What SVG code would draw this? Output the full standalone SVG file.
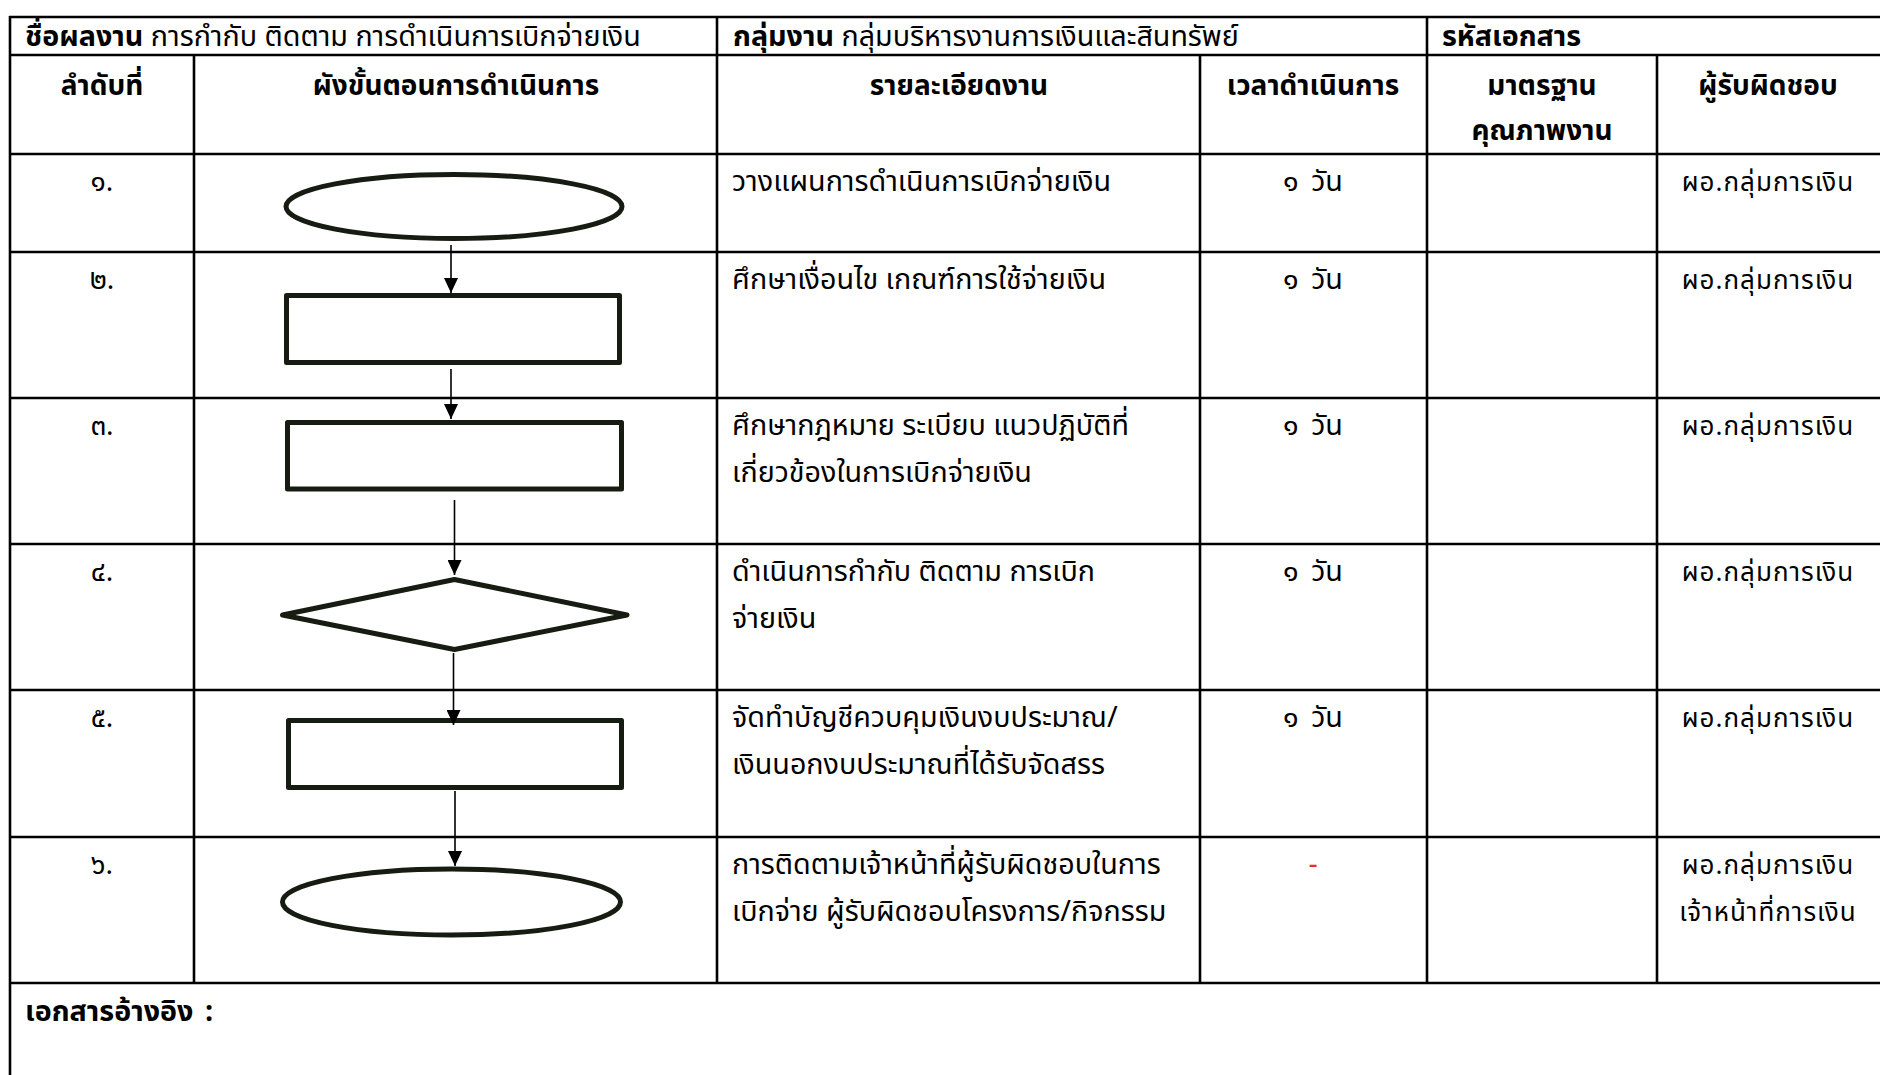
<svg xmlns="http://www.w3.org/2000/svg" width="1880" height="1075" viewBox="0 0 1880 1075">
<style>
  .t { font-family: "Noto Sans Thai", "Noto Sans Thai Looped", "Noto Sans", "DejaVu Sans", sans-serif; fill: #000; }
  .b { font-weight: bold; }
  .body { font-size: 28.7px; }
  .hd { font-size: 28px; font-weight: bold; }
  .num { font-size: 28px; }
  .resp { font-size: 26px; letter-spacing: 1px; }
  .grid line { stroke: #000; stroke-width: 2.6; }
  .shape { fill: #fff; stroke: #161c12; stroke-width: 5; stroke-linejoin: round; }
  .conn line { stroke: #000; stroke-width: 1.6; }
</style>
<defs>
  <marker id="ah" markerUnits="userSpaceOnUse" markerWidth="16" markerHeight="14" refX="15" refY="7" orient="auto">
    <path d="M0,0 L15,7 L0,14 z" fill="#000"/>
  </marker>
</defs>
<rect x="0" y="0" width="1880" height="1075" fill="#fff"/>

<g id="table-grid" class="grid">
  <line x1="9" y1="17" x2="1880" y2="17"/>
  <line x1="9" y1="55" x2="1880" y2="55"/>
  <line x1="9" y1="154" x2="1880" y2="154"/>
  <line x1="9" y1="252" x2="1880" y2="252"/>
  <line x1="9" y1="398" x2="1880" y2="398"/>
  <line x1="9" y1="544" x2="1880" y2="544"/>
  <line x1="9" y1="690" x2="1880" y2="690"/>
  <line x1="9" y1="837" x2="1880" y2="837"/>
  <line x1="9" y1="983" x2="1880" y2="983"/>
  <line x1="10" y1="16" x2="10" y2="1075"/>
  <line x1="717" y1="16" x2="717" y2="55"/>
  <line x1="1427" y1="16" x2="1427" y2="55"/>
  <line x1="194" y1="55" x2="194" y2="983"/>
  <line x1="717" y1="55" x2="717" y2="983"/>
  <line x1="1200" y1="55" x2="1200" y2="983"/>
  <line x1="1427" y1="55" x2="1427" y2="983"/>
  <line x1="1657" y1="55" x2="1657" y2="983"/>
</g>

<g id="title-row" class="t body">
  <text x="25" y="46"><tspan class="b">ชื่อผลงาน</tspan> การกำกับ ติดตาม การดำเนินการเบิกจ่ายเงิน</text>
  <text x="733" y="46"><tspan class="b">กลุ่มงาน</tspan> กลุ่มบริหารงานการเงินและสินทรัพย์</text>
  <text x="1442" y="46" class="b">รหัสเอกสาร</text>
</g>

<g id="header-row" class="t hd" text-anchor="middle">
  <text x="102" y="95">ลำดับที่</text>
  <text x="456" y="95">ผังขั้นตอนการดำเนินการ</text>
  <text x="959" y="95">รายละเอียดงาน</text>
  <text x="1313" y="95">เวลาดำเนินการ</text>
  <text x="1542" y="95">มาตรฐาน</text>
  <text x="1542" y="140">คุณภาพงาน</text>
  <text x="1768" y="95">ผู้รับผิดชอบ</text>
</g>

<g id="step-numbers" class="t num" text-anchor="middle">
  <text x="102" y="191">๑.</text>
  <text x="102" y="289">๒.</text>
  <text x="102" y="435">๓.</text>
  <text x="102" y="581">๔.</text>
  <text x="102" y="727">๕.</text>
  <text x="102" y="874">๖.</text>
</g>

<g id="node-1">
  <ellipse class="shape" cx="454" cy="206.5" rx="168" ry="32"/>
</g>
<g id="node-2">
  <rect class="shape" x="286.5" y="295.5" width="333" height="67"/>
</g>
<g id="node-3">
  <rect class="shape" x="287.5" y="422.5" width="334" height="66.5"/>
</g>
<g id="node-4">
  <polygon class="shape" points="282.5,615 454.5,579.5 627,615 454.5,649.5"/>
</g>
<g id="node-5">
  <rect class="shape" x="288.5" y="720.5" width="333" height="67"/>
</g>
<g id="node-6">
  <ellipse class="shape" cx="451.5" cy="902" rx="169" ry="33"/>
</g>

<g id="connectors" class="conn">
  <line x1="451" y1="245" x2="451" y2="293" marker-end="url(#ah)"/>
  <line x1="451" y1="369" x2="451" y2="419" marker-end="url(#ah)"/>
  <line x1="454.5" y1="500" x2="454.5" y2="575" marker-end="url(#ah)"/>
  <line x1="453.5" y1="653" x2="453.5" y2="725" marker-end="url(#ah)"/>
  <line x1="455" y1="791" x2="455" y2="866" marker-end="url(#ah)"/>
</g>

<g id="details" class="t body">
  <text x="732" y="191">วางแผนการดำเนินการเบิกจ่ายเงิน</text>
  <text x="732" y="289">ศึกษาเงื่อนไข เกณฑ์การใช้จ่ายเงิน</text>
  <text x="732" y="435">ศึกษากฎหมาย ระเบียบ แนวปฏิบัติที่</text>
  <text x="732" y="482">เกี่ยวข้องในการเบิกจ่ายเงิน</text>
  <text x="732" y="581">ดำเนินการกำกับ ติดตาม การเบิก</text>
  <text x="732" y="628">จ่ายเงิน</text>
  <text x="732" y="727">จัดทำบัญชีควบคุมเงินงบประมาณ/</text>
  <text x="732" y="774">เงินนอกงบประมาณที่ได้รับจัดสรร</text>
  <text x="732" y="874">การติดตามเจ้าหน้าที่ผู้รับผิดชอบในการ</text>
  <text x="732" y="921">เบิกจ่าย ผู้รับผิดชอบโครงการ/กิจกรรม</text>
</g>

<g id="durations" class="t body" text-anchor="middle" word-spacing="5">
  <text x="1313" y="191">๑ วัน</text>
  <text x="1313" y="289">๑ วัน</text>
  <text x="1313" y="435">๑ วัน</text>
  <text x="1313" y="581">๑ วัน</text>
  <text x="1313" y="727">๑ วัน</text>
  <text x="1313" y="874" style="fill:#e8312f">-</text>
</g>

<g id="responsible" class="t resp" text-anchor="middle">
  <text x="1768" y="191">ผอ.กลุ่มการเงิน</text>
  <text x="1768" y="289">ผอ.กลุ่มการเงิน</text>
  <text x="1768" y="435">ผอ.กลุ่มการเงิน</text>
  <text x="1768" y="581">ผอ.กลุ่มการเงิน</text>
  <text x="1768" y="727">ผอ.กลุ่มการเงิน</text>
  <text x="1768" y="874">ผอ.กลุ่มการเงิน</text>
  <text x="1768" y="921">เจ้าหน้าที่การเงิน</text>
</g>

<g id="footer" class="t body b">
  <text x="25" y="1021">เอกสารอ้างอิง</text>
  <text x="205" y="1021">:</text>
</g>
</svg>
